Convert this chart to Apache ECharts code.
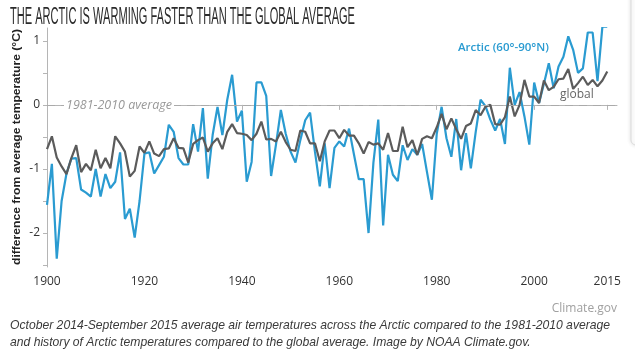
<!DOCTYPE html>
<html>
<head>
<meta charset="utf-8">
<script src="https://cdn.jsdelivr.net/npm/echarts@6/dist/echarts.min.js"></script>
<style>
html,body{margin:0;padding:0;background:#fff;}
#chart{width:635px;height:353px;}
</style>
</head>
<body>
<div id="chart"></div>
<script>
// ---- data ----
const firstYear = 1900;
const lastYear = 2015;
const xTickYears = [1900, 1920, 1940, 1960, 1980, 2000, 2015];
const yTickValues = [-2.5, -2, -1.5, -1, -0.5, 0, 0.5, 1];
const yLabelValues = [-2, -1, 0, 1];

const arctic = [
 -1.56, -0.92, -2.40, -1.50, -1.07, -0.84, -0.83, -1.32, -1.37, -1.43,
 -1.00, -1.43, -1.08, -1.30, -1.20, -0.74, -1.78, -1.62, -2.07, -1.50,
 -0.76, -0.74, -1.07, -0.94, -0.81, -0.31, -0.42, -0.83, -0.93, -0.93,
 -0.30, -0.73, -0.05, -1.15, -0.47, -0.03, -0.47, 0.08, 0.47, -0.26,
 -0.09, -1.20, -0.89, 0.35, 0.35, 0.14, -1.11, -0.62, -0.08, -0.45,
 -0.73, -0.90, -0.55, -0.24, -0.12, -0.73, -1.27, -0.60, -1.30, -0.67,
 -0.57, -0.65, -0.37, -0.77, -1.16, -1.16, -2.00, -0.90, -0.23, -1.88,
 -0.78, -1.09, -1.19, -0.63, -0.86, -0.69, -0.78, -0.61, -1.05, -1.48,
 -0.45, -0.03, -0.52, -0.81, -0.22, -1.02, -0.44, -0.99, -0.42, 0.08,
 -0.02, -0.23, -0.40, -0.22, -0.61, 0.58, 0.00, 0.20, -0.18, -0.62,
 0.35, 0.03, 0.33, 0.65, 0.26, 0.60, 0.75, 1.07, 0.86, 0.50,
 0.57, 1.13, 1.13, 0.37, 1.22, 1.22
];

const globalTemp = [
 -0.69, -0.49, -0.82, -0.96, -1.08, -0.83, -0.63, -1.05, -0.92, -1.02,
 -0.70, -0.99, -0.83, -0.99, -0.49, -0.60, -0.73, -1.12, -1.03, -0.65,
 -0.75, -0.57, -0.76, -0.80, -0.69, -0.68, -0.52, -0.67, -0.68, -0.90,
 -0.61, -0.55, -0.51, -0.73, -0.60, -0.52, -0.69, -0.42, -0.30, -0.44,
 -0.45, -0.47, -0.55, -0.45, -0.26, -0.54, -0.53, -0.57, -0.42, -0.58,
 -0.70, -0.72, -0.40, -0.42, -0.60, -0.60, -0.88, -0.57, -0.40, -0.40,
 -0.52, -0.39, -0.48, -0.48, -0.60, -0.76, -0.58, -0.62, -0.60, -0.70,
 -0.44, -0.72, -0.72, -0.34, -0.66, -0.55, -0.78, -0.53, -0.49, -0.52,
 -0.35, -0.14, -0.38, -0.21, -0.38, -0.53, -0.33, -0.29, -0.08, -0.16,
 -0.03, 0.00, -0.30, -0.31, -0.19, 0.13, -0.18, 0.00, 0.39, 0.13,
 0.13, 0.03, 0.38, 0.23, 0.28, 0.40, 0.41, 0.56, 0.25, 0.34,
 0.44, 0.31, 0.39, 0.29, 0.38, 0.52
];

const titleText = 'THE ARCTIC IS WARMING FASTER THAN THE GLOBAL AVERAGE';
const yName = 'difference from average temperature (°C)';
const baselineText = '1981-2010 average';
const arcticName = 'Arctic (60°-90°N)';
const globalName = 'global';
const creditText = 'Climate.gov';
const caption1 = 'October 2014-September 2015 average air temperatures across the Arctic compared to the 1981-2010 average';
const caption2 = 'and history of Arctic temperatures compared to the global average. Image by NOAA Climate.gov.';

// ---- build ----
const years = [];
for (let y = firstYear; y <= lastYear; y++) years.push(y);
const arcticPts = years.map((y, i) => [y, arctic[i]]);
const globalPts = years.map((y, i) => [y, globalTemp[i]]);

const ctx = document.createElement('canvas').getContext('2d');
function measure(font, text) { ctx.font = font; return ctx.measureText(text).width; }

const titleFont = 'normal 23px "Liberation Sans Narrow", "Liberation Sans", sans-serif';
const titleScale = 345 / measure(titleFont, titleText);

const yNameFont = 'bold 11px "Liberation Sans", sans-serif';
const yNameScale = 236 / measure(yNameFont, yName);

const capFontBase = 12;
const capFamily = '"Liberation Sans", Arial, sans-serif';
const capW = measure('italic ' + capFontBase + 'px ' + capFamily, caption1);
const capSize = capFontBase * 600 / capW;

const chart = echarts.init(document.getElementById('chart'), null, {renderer: 'canvas'});
const BLUE = '#2a9bd1';
const GRAY = '#5b5b5b';
const AXIS = '#b5b5b5';
const fam = '"Open Sans", sans-serif';

chart.setOption({
  animation: false,
  backgroundColor: '#fff',
  grid: {left: 47, right: 18, top: 28, bottom: 86, containLabel: false},
  xAxis: {
    type: 'value', min: 1900, max: 2017,
    axisLine: {show: true, lineStyle: {color: AXIS, width: 1}},
    axisTick: {show: true, length: 5, lineStyle: {color: AXIS}, customValues: xTickYears},
    axisLabel: {customValues: xTickYears, formatter: v => String(v), color: '#333', fontSize: 12, fontFamily: fam, margin: 9},
    splitLine: {show: false}
  },
  yAxis: {
    type: 'value', min: -2.53, max: 1.2,
    axisLine: {show: true, lineStyle: {color: AXIS, width: 1}},
    axisTick: {show: true, length: 4, lineStyle: {color: AXIS}, customValues: yTickValues},
    axisLabel: {customValues: yLabelValues, formatter: v => String(v), color: '#333', fontSize: 12, fontFamily: fam, margin: 7},
    splitLine: {show: false}
  },
  series: [
    {
      name: 'Arctic', type: 'line', data: arcticPts, symbol: 'none',
      lineStyle: {color: BLUE, width: 2.2}, z: 3,
      markLine: {
        silent: true, symbol: 'none', label: {show: false},
        lineStyle: {color: '#aaaaaa', type: [8, 6], width: 1.2},
        data: [{yAxis: 0}]
      }
    },
    {
      name: 'global', type: 'line', data: globalPts, symbol: 'none',
      lineStyle: {color: GRAY, width: 2.2}, z: 4
    }
  ],
  graphic: [
    {type: 'text', x: 10, y: 6, scaleX: titleScale, z: 100,
     style: {text: titleText, font: titleFont, fill: '#2b2b2b', textVerticalAlign: 'top'}},
    {type: 'text', x: 17, y: 147, rotation: Math.PI / 2, scaleX: yNameScale, scaleY: 1.05, z: 100,
     style: {text: yName, font: yNameFont, fill: '#222', textAlign: 'center', textVerticalAlign: 'middle'}},
    {type: 'text', x: 64, y: 105, z: 100,
     style: {text: baselineText, font: 'italic 12.5px ' + fam, fill: '#999', textAlign: 'left', textVerticalAlign: 'middle',
             backgroundColor: '#fff', padding: [0, 2, 0, 2]}},
    {type: 'text', x: 458, y: 48, z: 100,
     style: {text: arcticName, font: '600 11.5px ' + fam, fill: BLUE, textAlign: 'left', textVerticalAlign: 'middle'}},
    {type: 'text', x: 560, y: 95, z: 100,
     style: {text: globalName, font: 'normal 12px ' + fam, fill: '#666', textAlign: 'left', textVerticalAlign: 'middle'}},
    {type: 'text', x: 617, y: 309, z: 100,
     style: {text: creditText, font: 'normal 12px ' + fam, fill: '#a0a0a0', textAlign: 'right', textVerticalAlign: 'middle'}},
    {type: 'text', x: 10, y: 326, z: 100,
     style: {text: caption1, font: 'italic ' + capSize.toFixed(2) + 'px ' + capFamily, fill: '#3a3a3a', textAlign: 'left', textVerticalAlign: 'middle'}},
    {type: 'text', x: 10, y: 343, z: 100,
     style: {text: caption2, font: 'italic ' + capSize.toFixed(2) + 'px ' + capFamily, fill: '#3a3a3a', textAlign: 'left', textVerticalAlign: 'middle'}},
    {type: 'rect', x: 631, y: -10, z: 90,
     shape: {width: 30, height: 155, r: 5},
     style: {fill: '#fcfcfc', stroke: '#dcdcdc', lineWidth: 1, shadowBlur: 4, shadowColor: 'rgba(0,0,0,0.12)'}}
  ]
});
</script>
</body>
</html>
